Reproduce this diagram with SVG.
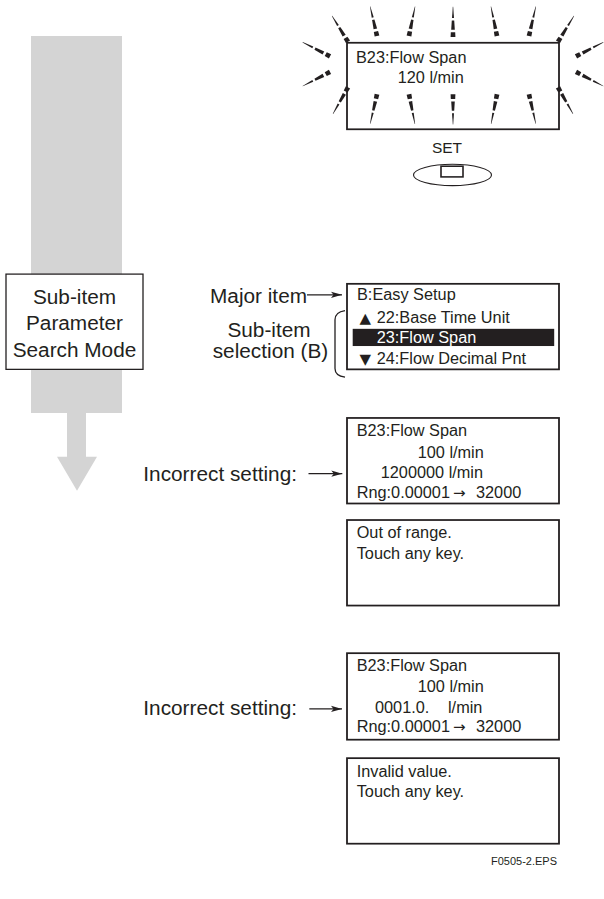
<svg xmlns="http://www.w3.org/2000/svg" xmlns:xlink="http://www.w3.org/1999/xlink" width="604" height="899" viewBox="0 0 604 899">
<style>
  .lcd { fill: #ffffff; stroke: #231f20; stroke-width: 1.8; }
  .t { font-family: "Liberation Sans", Arial, sans-serif; fill: #231f20; }
  .sym { font-family: "DejaVu Sans", sans-serif; fill: #231f20; }
  .lt { font-size: 16.3px; }
  .big { font-size: 20.8px; }
  .conn { stroke: #231f20; stroke-width: 1.3; fill: none; }
  .ray { fill: #231f20; }
</style>
<defs>
  <g id="ray" class="ray">
    <polygon points="-2.4,0 2.4,0 2.2,-4.8 -2.2,-4.8"/>
    <polygon points="-1.8,-7.5 1.8,-7.5 1.2,-17 -1.2,-17"/>
    <polygon points="-1,-19.5 1,-19.5 0.2,-31 -0.2,-31"/>
  </g>
  <marker id="ah" markerWidth="12" markerHeight="8" refX="11" refY="4" orient="auto" markerUnits="userSpaceOnUse">
    <path d="M0,0.8 L11,4 L0,7.2 L2.5,4 Z" fill="#231f20"/>
  </marker>
</defs>

<rect width="604" height="899" fill="#ffffff"/>

<g transform="scale(1,0.972)">

<!-- big gray flow arrow -->
<g id="flow-arrow">
  <path d="M31,37 H122 V425 H86 V470 H97 L77,505 L57,470 H67 V425 H31 Z" fill="#d4d4d4"/>
</g>

<!-- mode box -->
<g id="mode-box">
  <rect x="6" y="282" width="137" height="98" fill="#ffffff" stroke="#231f20" stroke-width="1.3"/>
  <text class="t big" x="74.5" y="312.5" text-anchor="middle">Sub-item</text>
  <text class="t big" x="74.5" y="340" text-anchor="middle">Parameter</text>
  <text class="t big" x="74.5" y="367.5" text-anchor="middle">Search Mode</text>
</g>

<!-- flashing display -->
<g id="flash-display">
  <rect class="lcd" x="347" y="44" width="212" height="89"/>
  <text class="t lt" x="356" y="65">B23:Flow Span</text>
  <text class="t lt" x="397.7" y="85">120 l/min</text>
  <g id="rays">
    <use xlink:href="#ray" transform="translate(377,37) rotate(-12.7)"/>
    <use xlink:href="#ray" transform="translate(409,37) rotate(11.3)"/>
    <use xlink:href="#ray" transform="translate(453,38) rotate(0)"/>
    <use xlink:href="#ray" transform="translate(497,37) rotate(-11.3)"/>
    <use xlink:href="#ray" transform="translate(529,37) rotate(12.7)"/>
    <use xlink:href="#ray" transform="translate(348,43) rotate(-31)"/>
    <use xlink:href="#ray" transform="translate(558,43) rotate(31)"/>
    <use xlink:href="#ray" transform="translate(330,58) rotate(-62)"/>
    <use xlink:href="#ray" transform="translate(330,74) rotate(-118)"/>
    <use xlink:href="#ray" transform="translate(576,58) rotate(62)"/>
    <use xlink:href="#ray" transform="translate(576,74) rotate(118)"/>
    <use xlink:href="#ray" transform="translate(348,90) rotate(-151)"/>
    <use xlink:href="#ray" transform="translate(558,90) rotate(151)"/>
    <use xlink:href="#ray" transform="translate(377,97) rotate(-167.3)"/>
    <use xlink:href="#ray" transform="translate(409,97) rotate(169)"/>
    <use xlink:href="#ray" transform="translate(453,97) rotate(180)"/>
    <use xlink:href="#ray" transform="translate(497,97) rotate(-169)"/>
    <use xlink:href="#ray" transform="translate(529,97) rotate(167.3)"/>
  </g>
</g>

<!-- SET key -->
<g id="set-key">
  <text class="t" x="447" y="157.5" font-size="15.5" text-anchor="middle">SET</text>
  <ellipse cx="452.5" cy="180" rx="39" ry="11" fill="none" stroke="#231f20" stroke-width="1.1"/>
  <rect x="441" y="171" width="22" height="11" fill="none" stroke="#231f20" stroke-width="1.6"/>
</g>

<!-- list display -->
<g id="list-display">
  <rect class="lcd" x="347" y="292" width="212" height="88"/>
  <text class="t lt" x="357" y="308.5">B:Easy Setup</text>
  <text class="sym" font-size="15" x="359.5" y="332.5">▲</text>
  <text class="t lt" x="376.7" y="332.5">22:Base Time Unit</text>
  <rect x="352.7" y="338.3" width="201.5" height="17.7" fill="#231f20"/>
  <text class="t lt" x="376.7" y="353.3" style="fill:#ffffff">23:Flow Span</text>
  <text class="sym" font-size="15" x="359.5" y="374">▼</text>
  <text class="t lt" x="376.7" y="374">24:Flow Decimal Pnt</text>
</g>

<!-- labels -->
<g id="label-major">
  <text class="t big" x="210" y="311.5">Major item</text>
</g>
<g id="label-subitem">
  <text class="t big" x="269" y="346.7" text-anchor="middle">Sub-item</text>
  <text class="t big" x="270.5" y="368.3" text-anchor="middle">selection (B)</text>
</g>
<g id="label-incorrect-1">
  <text class="t big" x="143.3" y="495">Incorrect setting:</text>
</g>
<g id="label-incorrect-2">
  <text class="t big" x="143.3" y="735.5">Incorrect setting:</text>
</g>

<!-- error display 1 -->
<g id="error1-display">
  <rect class="lcd" x="347" y="430" width="212" height="88"/>
  <text class="t lt" x="356.7" y="448.3">B23:Flow Span</text>
  <text class="t lt" x="417.7" y="470.7">100 l/min</text>
  <text class="t lt" x="380.7" y="491.7">1200000 l/min</text>
  <text class="t lt" x="356.7" y="512.5">Rng:0.00001</text>
  <text class="sym" font-size="15" x="453" y="512.5">→</text>
  <text class="t lt" x="476" y="512.5">32000</text>
</g>
<g id="error1-message">
  <rect class="lcd" x="347" y="535" width="212" height="88"/>
  <text class="t lt" x="356.7" y="554">Out of range.</text>
  <text class="t lt" x="356.7" y="575">Touch any key.</text>
</g>

<!-- error display 2 -->
<g id="error2-display">
  <rect class="lcd" x="347" y="672" width="212" height="89"/>
  <text class="t lt" x="356.7" y="690">B23:Flow Span</text>
  <text class="t lt" x="417.7" y="711.7">100 l/min</text>
  <text class="t lt" x="375" y="733.3">0001.0.</text>
  <text class="t lt" x="448" y="733.3">l/min</text>
  <text class="t lt" x="356.7" y="753.3">Rng:0.00001</text>
  <text class="sym" font-size="15" x="453" y="753.3">→</text>
  <text class="t lt" x="476" y="753.3">32000</text>
</g>
<g id="error2-message">
  <rect class="lcd" x="347" y="780" width="212" height="88"/>
  <text class="t lt" x="356.7" y="799.3">Invalid value.</text>
  <text class="t lt" x="356.7" y="820">Touch any key.</text>
</g>

<!-- connectors -->
<g id="connectors">
  <line class="conn" x1="307" y1="303.3" x2="342" y2="303.3" marker-end="url(#ah)"/>
  <path class="conn" d="M345,319.5 Q335,321 335,329 L335,379 Q335,386.5 345,388"/>
  <line class="conn" x1="308.5" y1="487.3" x2="342.3" y2="487.3" marker-end="url(#ah)"/>
  <line class="conn" x1="309.3" y1="729.3" x2="342" y2="729.3" marker-end="url(#ah)"/>
</g>

<text class="t" x="557" y="890" font-size="11" text-anchor="end">F0505-2.EPS</text>

</g>
</svg>
